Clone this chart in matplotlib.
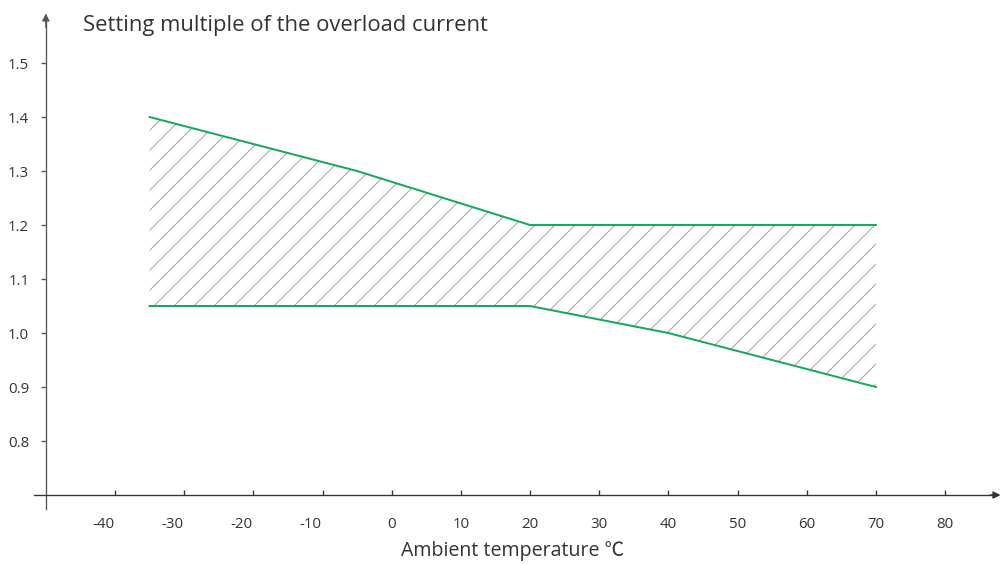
import numpy as np
import matplotlib
matplotlib.use('Agg')
import matplotlib.pyplot as plt
import matplotlib.transforms as mtransforms

plt.rcParams['font.family'] = ['Open Sans', 'Noto Sans CJK SC', 'DejaVu Sans']
plt.rcParams['axes.unicode_minus'] = False
plt.rcParams['hatch.linewidth'] = 0.6

# --- data ---
upper_t = [-35, -5, 20, 70]
upper_k = [1.40, 1.30, 1.20, 1.20]
lower_t = [-35, 20, 40, 70]
lower_k = [1.05, 1.05, 1.00, 0.90]

x_ticks = [-40, -30, -20, -10, 0, 10, 20, 30, 40, 50, 60, 70, 80]
y_ticks = [0.8, 0.9, 1.0, 1.1, 1.2, 1.3, 1.4, 1.5]

title = 'Setting multiple of the overload current'
xlabel = 'Ambient temperature \u2103'

green = '#1aa85a'
text_c = '#333333'
axis_c = '#333333'

# dpi 120 so the '//' hatch spacing lands on ~20 px
fig = plt.figure(figsize=(1005 / 120, 565 / 120), dpi=120)
ax = fig.add_axes([0, 0, 1, 1])
ax.set_xlim(-56.63, 88.67)
ax.set_ylim(0.5704, 1.6167)
ax.patch.set_visible(False)

# hatched band between the two limits
poly_t = np.r_[upper_t, lower_t[::-1]]
poly_k = np.r_[upper_k, lower_k[::-1]]
ax.fill(poly_t, poly_k, facecolor='none', edgecolor='#a0a0a0', hatch='//', linewidth=0)
ax.plot(upper_t, upper_k, color=green, lw=1.2)
ax.plot(lower_t, lower_k, color=green, lw=1.2)

# axes crossing at (-50, 0.7)
for s in ['top', 'right']:
    ax.spines[s].set_visible(False)
ax.spines['left'].set_position(('data', -50))
ax.spines['bottom'].set_position(('data', 0.7))
ax.spines['left'].set_bounds(0.674, 1.58)
ax.spines['bottom'].set_bounds(-51.7, 87.5)
ax.spines['left'].set_color('#555555')
ax.spines['bottom'].set_color(axis_c)
ax.spines['left'].set_linewidth(0.8)
ax.spines['bottom'].set_linewidth(0.8)

# arrow heads
ax.annotate('', xy=(88.5, 0.7), xytext=(86.0, 0.7),
            arrowprops=dict(arrowstyle='-|>', color=axis_c, lw=0.8, mutation_scale=9))
ax.annotate('', xy=(-50, 1.598), xytext=(-50, 1.56),
            arrowprops=dict(arrowstyle='-|>', color='#555555', lw=0.8, mutation_scale=9))

ax.set_xticks(x_ticks)
ax.set_xticklabels([str(v) for v in x_ticks])
ax.set_yticks(y_ticks)
ax.set_yticklabels([f'{v:.1f}' for v in y_ticks])
ax.tick_params(axis='x', direction='in', length=3, width=0.8, color=axis_c,
               labelsize=9, labelcolor=text_c, pad=13)
ax.tick_params(axis='y', direction='out', length=3, width=0.8, color='#555555',
               labelsize=9, labelcolor=text_c, pad=7)

# negative labels sit a bit left of their ticks in the reference
for v, lab in zip(x_ticks, ax.get_xticklabels()):
    if v < 0:
        lab.set_transform(lab.get_transform() +
                          mtransforms.ScaledTranslation(-0.1, 0, fig.dpi_scale_trans))

fig.text(83 / 1005, 1 - 25 / 565, title, fontsize=13.2, color=text_c, va='center', ha='left')
fig.text(513 / 1005, 1 - 551 / 565, xlabel, fontsize=11.8, color=text_c, va='center', ha='center')

fig.savefig('out.png', dpi=120)
